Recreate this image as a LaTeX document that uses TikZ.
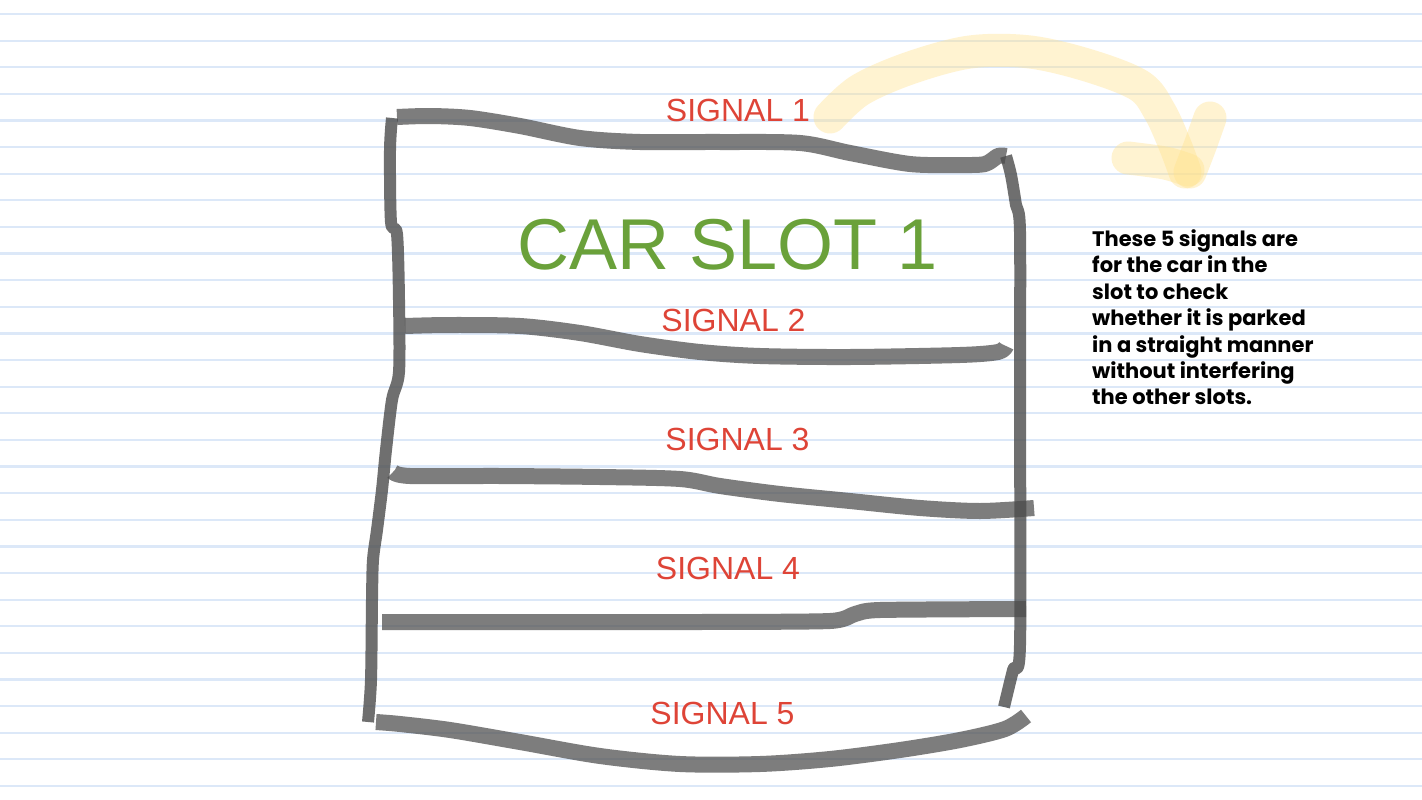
\documentclass[tikz,border=0pt]{standalone}
\usepackage{fontspec}
\setmainfont{Liberation Sans}
\newfontfamily\notefont{Poppins}
\definecolor{ruled}{RGB}{220,232,248}
\definecolor{sigred}{RGB}{222,68,55}
\definecolor{slotgreen}{RGB}{106,161,58}
\definecolor{penyellow}{RGB}{255,226,140}
\tikzset{
  pen/.style={draw=black!70, line width=16pt, opacity=0.72, line join=round, line cap=butt},
  vpen/.style={pen, line width=12pt, opacity=0.8},
  hilite/.style={draw=penyellow, line width=33pt, opacity=0.4, line cap=round, line join=round},
  siglabel/.style={text=sigred, font=\fontsize{32}{38}\selectfont, anchor=base, inner sep=0pt},
  slotlabel/.style={text=slotgreen, font=\fontsize{72}{80}\selectfont, anchor=base, inner sep=0pt},
  notelabel/.style={font=\notefont\bfseries\fontsize{21}{26.4}\selectfont, anchor=north west, inner sep=0pt, align=left}
}
\begin{document}
\begin{tikzpicture}[x=1pt,y=-1pt]
\useasboundingbox (0,0) rectangle (1422,800);
\fill[white] (0,0) rectangle (1422,800);
% ruled notebook lines
\foreach \k in {0,...,29}{
  \draw[ruled, line width=2.2pt] (0,{14+26.62*\k}) -- (1422,{14+26.62*\k});
}
% yellow arrow
\draw[hilite] plot[smooth, tension=0.55] coordinates {(830,117) (860,90) (910,68) (970,52) (1030,52) (1090,66) (1140,86) (1160,112) (1175,145) (1185,172)};
\draw[hilite] plot[smooth, tension=0.5] coordinates {(1128,158) (1165,163) (1188,170)};
\draw[hilite] plot[smooth, tension=0.5] coordinates {(1210,118) (1200,146) (1190,172)};
% box
\draw[pen] plot[smooth, tension=0.5] coordinates {(397,117) (430,116) (470,118) (520,126) (580,138) (640,142) (720,142) (800,143) (850,153) (910,164) (960,165) (985,164) (998,156) (1006,156)};
\draw[vpen] plot[smooth, tension=0.5] coordinates {(1006,156) (1011,175) (1016,205) (1020,232) (1020,400) (1020,645) (1013,670) (1004,707)};
\draw[vpen] plot[smooth, tension=0.5] coordinates {(392,118) (390,150) (391,222) (397,234) (399,300) (399,372) (392,400) (386,450) (382,490) (377,530) (373,560) (372,600) (371,680) (368,722)};
\draw[pen] plot[smooth, tension=0.5] coordinates {(405,326) (450,325) (520,326) (580,333) (640,344) (700,352) (760,356) (850,357) (960,355) (998,352) (1006,346)};
\draw[pen] plot[smooth, tension=0.5] coordinates {(393,472) (410,476) (500,476) (600,477) (680,479) (720,486) (780,494) (850,501) (920,508) (980,511) (1034,508)};
\draw[pen] plot[smooth, tension=0.4] coordinates {(382,622) (500,622) (700,622) (830,621) (855,614) (880,610) (1026,609)};
\draw[pen] plot[smooth, tension=0.5] coordinates {(376,722) (400,724) (450,730) (520,742) (600,756) (680,764) (760,764) (830,759) (900,750) (960,740) (1005,729) (1026,716)};
% labels
\node[siglabel] (s1) at (738,121.5) {SIGNAL 1};
\node[slotlabel] (slot) at (728,269) {CAR SLOT 1};
\node[siglabel] (s2) at (733.5,331) {SIGNAL 2};
\node[siglabel] (s3) at (737.5,450) {SIGNAL 3};
\node[siglabel] (s4) at (728,579) {SIGNAL 4};
\node[siglabel] (s5) at (722.5,724.5) {SIGNAL 5};
\node[notelabel] (note) at (1092,229.5) {These 5 signals are\\for the car in the\\slot to check\\whether it is parked\\in a straight manner\\without interfering\\the other slots.};
\end{tikzpicture}
\end{document}
